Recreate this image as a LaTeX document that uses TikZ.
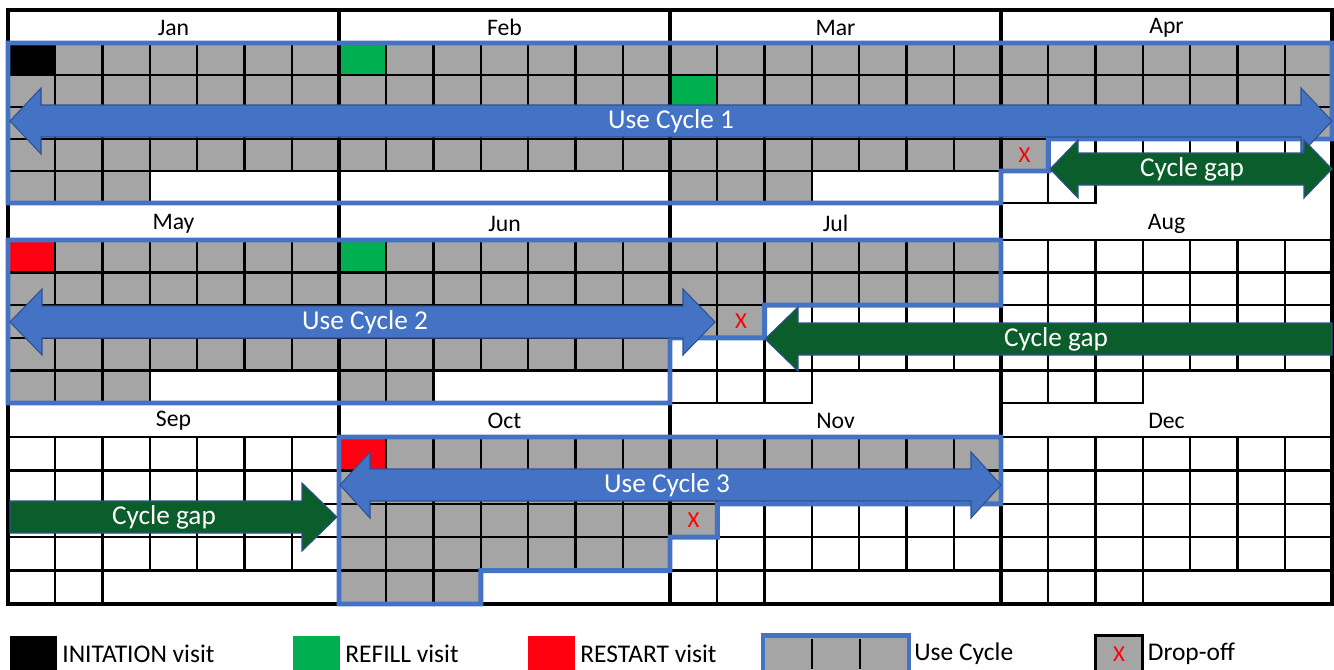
\documentclass[tikz,border=0pt]{standalone}
\usepackage{fontspec}
\setmainfont{Carlito}
\usetikzlibrary{positioning}
\definecolor{usegray}{HTML}{A5A5A5}
\definecolor{cycblue}{HTML}{4472C4}
\definecolor{edgeblue}{HTML}{2F528F}
\definecolor{gapgreen}{HTML}{0B5E2B}
\definecolor{refillgreen}{HTML}{00B050}
\definecolor{restartred}{HTML}{FF0010}
\begin{document}
\begin{tikzpicture}[
        x=0.02cm,
        y=-0.02cm,
        daycell/.style={draw=black, line width=1.3pt, minimum width=0.9457cm, inner sep=0pt, outer sep=0pt},
        monthname/.style={font=\fontsize{13.5}{16}\selectfont, inner sep=0pt},
        frameline/.style={draw=black, line width=2.3pt},
        cycleline/.style={draw=cycblue, line width=2.8pt, line join=miter},
        cyclearrow/.style={fill=cycblue, draw=edgeblue, line width=0.6pt},
        gaparrow/.style={fill=gapgreen, draw=edgeblue, line width=0.6pt},
        arrowtext/.style={text=white, font=\fontsize{15.5}{18}\selectfont, inner sep=0pt},
        dropx/.style={text=red, font=\fontsize{13}{15}\selectfont, inner sep=0pt},
        keybox/.style={minimum width=0.94cm, minimum height=0.74cm, inner sep=0pt, outer sep=0pt},
        keytext/.style={font=\fontsize{14.5}{17}\selectfont, inner sep=0pt, right=0.1cm}
    ]
    \useasboundingbox (0,0) rectangle (1334,669);
    % month grid: index/name/days/days in use
    \foreach \k/\mname/\ndays/\nused in {1/Jan/31/31, 2/Feb/28/28, 3/Mar/31/31, 4/Apr/30/22,
            5/May/31/31, 6/Jun/30/30, 7/Jul/31/16, 8/Aug/31/0,
            9/Sep/30/0, 10/Oct/31/31, 11/Nov/30/15, 12/Dec/31/0} {
        \pgfmathtruncatemacro{\blk}{int((\k-1)/4)}
        \pgfmathsetmacro{\mx}{8+mod(\k-1,4)*331}
        \pgfmathsetmacro{\yt}{{10,205,403}[\blk]}
        \pgfmathsetmacro{\yr}{{43,240,437}[\blk]}
        \pgfmathsetmacro{\rh}{{32,32.6,33.4}[\blk]}
        \pgfmathsetmacro{\rhcm}{\rh*0.02}
        \node[monthname] (m\k) at (\mx+165.5,{(\yt+\yr)/2+1}) {\mname};
        \foreach \d in {1,...,\ndays} {
            \pgfmathtruncatemacro{\row}{int((\d-1)/7)}
            \pgfmathtruncatemacro{\col}{mod(\d-1,7)}
            \ifnum\d>\nused \def\cellfill{white}\else \def\cellfill{usegray}\fi
            \node[daycell, fill=\cellfill, minimum height=\rhcm cm] (c\k-\d)
                at ({\mx+(\col+0.5)*47.29},{\yr+(\row+0.5)*\rh}) {};
        }
    }
    % visit days
    \foreach \cellname/\colr in {c1-1/black, c2-1/refillgreen, c3-8/refillgreen,
            c5-1/restartred, c6-1/refillgreen, c10-1/restartred} {
        \filldraw[fill=\colr, draw=black, line width=1.3pt] (\cellname.north west) rectangle (\cellname.south east);
    }
    \node[dropx] (x4) at (c4-22) {X};
    \node[dropx] (x7) at (c7-16) {X};
    \node[dropx] (x11) at (c11-15) {X};
    % frame
    \foreach \i in {1,2,3} { \draw[frameline] (8+\i*331,10) -- (8+\i*331,604); }
    \draw[frameline] (8,10) rectangle (1332,604);
    % use cycles
    \draw[cycleline] (c1-1.north west) -- (c4-7.north east) -- (c4-21.south east) -- (c4-22.north east)
        -- (c4-22.south east) -- (c4-22.south west) -- (c4-29.south west) -- (c1-29.south west) -- cycle;
    \draw[cycleline] (c5-1.north west) -- (c7-7.north east) -- (c7-14.south east) -- (c7-16.north east)
        -- (c7-16.south east) -- (c7-15.south west) -- (c7-29.south west) -- (c5-29.south west) -- cycle;
    \draw[cycleline] (c10-1.north west) -- (c11-7.north east) -- (c11-14.south east) -- (c11-15.north east)
        -- (c11-15.south east) -- (c11-15.south west) -- (c11-22.south west) -- (c10-31.north east)
        -- (c10-31.south east) -- (c10-29.south west) -- cycle;
    % arrows
    \filldraw[cyclearrow] (10,121) -- (41,88) -- (41,105) -- (1301,105) -- (1301,88) -- (1332,121)
        -- (1301,154) -- (1301,137) -- (41,137) -- (41,154) -- cycle;
    \filldraw[gaparrow] (1050,169) -- (1078,140) -- (1078,153) -- (1304,153) -- (1304,140) -- (1332,169)
        -- (1304,198) -- (1304,185) -- (1078,185) -- (1078,198) -- cycle;
    \filldraw[cyclearrow] (10,322) -- (42,289) -- (42,306) -- (683,306) -- (683,289) -- (715,322)
        -- (683,355) -- (683,338) -- (42,338) -- (42,355) -- cycle;
    \filldraw[gaparrow] (765,339) -- (798,307) -- (798,323) -- (1332,323) -- (1332,355) -- (798,355)
        -- (798,371) -- cycle;
    \filldraw[cyclearrow] (340,485) -- (370,452) -- (370,469) -- (971,469) -- (971,452) -- (1001,485)
        -- (971,518) -- (971,501) -- (370,501) -- (370,518) -- cycle;
    \filldraw[gaparrow] (10,501) -- (302,501) -- (302,483) -- (337,517) -- (302,551) -- (302,533)
        -- (10,533) -- cycle;
    \node[arrowtext] (uc1) at (671,121) {Use Cycle 1};
    \node[arrowtext] (gap1) at (1192,169) {Cycle gap};
    \node[arrowtext] (uc2) at (365,322) {Use Cycle 2};
    \node[arrowtext] (gap2) at (1056,339) {Cycle gap};
    \node[arrowtext] (uc3) at (667,485) {Use Cycle 3};
    \node[arrowtext] (gap3) at (164,517) {Cycle gap};
    % legend
    \node[keybox, fill=black] (keyinit) at (33.5,654) {};
    \node[keytext] (keyinittext) [right=0.1cm of keyinit] {INITATION visit};
    \node[keybox, fill=refillgreen] (keyrefill) at (316.5,654) {};
    \node[keytext] (keyrefilltext) [right=0.1cm of keyrefill] {REFILL visit};
    \node[keybox, fill=restartred] (keyrestart) at (551.5,654) {};
    \node[keytext] (keyrestarttext) [right=0.1cm of keyrestart] {RESTART visit};
    \node[keybox, fill=usegray, draw=cycblue, line width=2.8pt, minimum width=2.92cm] (keycycle) at (836,654) {};
    \draw[line width=1.3pt] (812,639) -- (812,669) (860,639) -- (860,669);
    \node[keytext] (keycycletext) [right=0.1cm of keycycle] {Use Cycle};
    \node[keybox, fill=usegray, draw=black, line width=1.6pt] (keydrop) at (1119,654) {};
    \node[dropx] (keydropx) at (keydrop) {X};
    \node[keytext] (keydroptext) [right=0.1cm of keydrop] {Drop-off};
\end{tikzpicture}
\end{document}
